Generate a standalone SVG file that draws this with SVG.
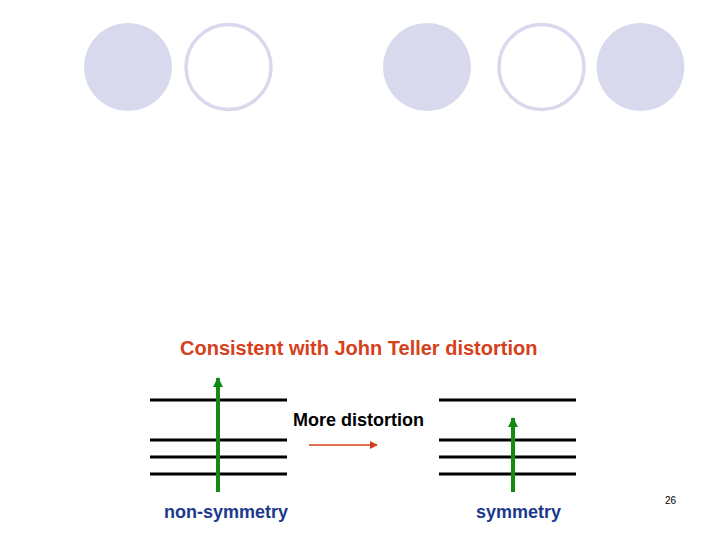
<svg xmlns="http://www.w3.org/2000/svg" width="720" height="540" viewBox="0 0 720 540">
<style>
.fc{fill:#d9d9ee}
.oc{fill:#fff;stroke:#d9d9ee;stroke-width:3.5}
.lvl{stroke:#000;stroke-width:3;fill:none}
.up{stroke:#138a13;stroke-width:4;fill:none}
.t{font-family:"Liberation Sans",Arial,sans-serif;font-weight:bold}
</style>
<defs>
<marker id="gh" viewBox="0 0 10 10" refX="9" refY="5" markerWidth="2.6" markerHeight="2.6" orient="auto" markerUnits="strokeWidth">
<path d="M0,0L10,5L0,10z" fill="#138a13"/>
</marker>
<marker id="rh" viewBox="0 0 10 10" refX="9" refY="5" markerWidth="5" markerHeight="5" orient="auto" markerUnits="strokeWidth">
<path d="M0,0L10,5L0,10z" fill="#d0401c"/>
</marker>
</defs>
<rect width="720" height="540" fill="#fff"/>
<g id="circles">
<circle class="fc" cx="128" cy="67" r="44"/>
<circle class="oc" cx="228.5" cy="67" r="42.5"/>
<circle class="fc" cx="427" cy="67" r="44"/>
<circle class="oc" cx="541.5" cy="67" r="42.5"/>
<circle class="fc" cx="640.5" cy="67" r="44"/>
</g>
<text class="t" x="180" y="355" font-size="20" fill="#d6401a">Consistent with John Teller distortion</text>
<g id="left-levels">
<line class="lvl" x1="150" y1="400" x2="287" y2="400"/>
<line class="lvl" x1="150" y1="440" x2="287" y2="440"/>
<line class="lvl" x1="150" y1="457" x2="287" y2="457"/>
<line class="lvl" x1="150" y1="474" x2="287" y2="474"/>
</g>
<g id="right-levels">
<line class="lvl" x1="439" y1="400" x2="576" y2="400"/>
<line class="lvl" x1="439" y1="440" x2="576" y2="440"/>
<line class="lvl" x1="439" y1="457" x2="576" y2="457"/>
<line class="lvl" x1="439" y1="474" x2="576" y2="474"/>
</g>
<g id="connectors">
<line class="up" x1="218" y1="492" x2="218" y2="378" marker-end="url(#gh)"/>
<line class="up" x1="513" y1="492" x2="513" y2="418" marker-end="url(#gh)"/>
<line x1="309" y1="445" x2="377" y2="445" stroke="#d0401c" stroke-width="1.6" marker-end="url(#rh)"/>
</g>
<text class="t" x="293" y="426" font-size="18" fill="#000">More distortion</text>
<text class="t" x="164" y="518" font-size="18" fill="#1c3a8c">non-symmetry</text>
<text class="t" x="476" y="518" font-size="18" fill="#1c3a8c">symmetry</text>
<text x="665" y="504" font-size="10" font-family="Liberation Sans,Arial,sans-serif" fill="#000">26</text>
</svg>
